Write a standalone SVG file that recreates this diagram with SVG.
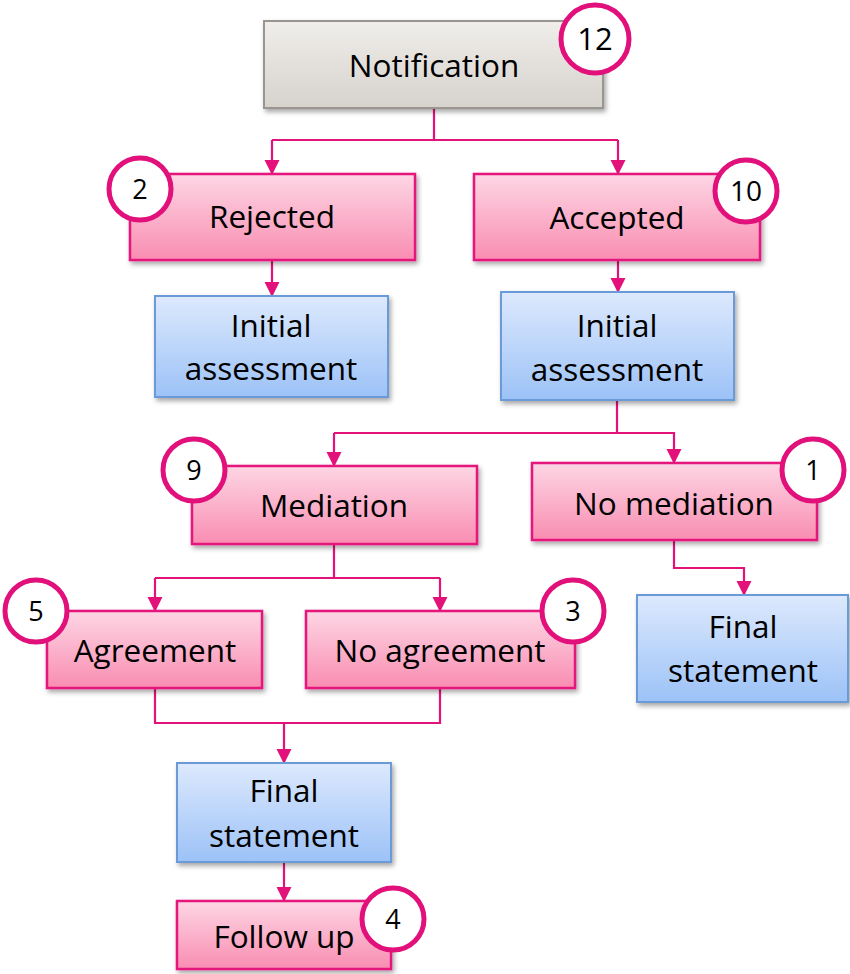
<svg xmlns="http://www.w3.org/2000/svg" width="850" height="974" viewBox="0 0 850 974">
<defs>
<linearGradient id="gGray" x1="0" y1="0" x2="0" y2="1"><stop offset="0" stop-color="#f0eeeb"/><stop offset="1" stop-color="#d6d2cc"/></linearGradient>
<linearGradient id="gPink" x1="0" y1="0" x2="0" y2="1"><stop offset="0" stop-color="#fdd6e4"/><stop offset="1" stop-color="#f98db2"/></linearGradient>
<linearGradient id="gBlue" x1="0" y1="0" x2="0" y2="1"><stop offset="0" stop-color="#dde9fd"/><stop offset="1" stop-color="#9cc2f7"/></linearGradient>
<filter id="sh" x="-10%" y="-10%" width="125%" height="135%"><feDropShadow dx="2" dy="3" stdDeviation="2.5" flood-color="#000" flood-opacity="0.35"/></filter>
<marker id="ah" markerUnits="userSpaceOnUse" markerWidth="16" markerHeight="16" refX="14" refY="7.5" orient="auto"><path d="M0,0 L15,7.5 L0,15 z" fill="#e2127a"/></marker>
</defs>
<style>
.gray{fill:url(#gGray);stroke:#9a9590;stroke-width:2;filter:url(#sh)}
.pink{fill:url(#gPink);stroke:#e5177b;stroke-width:2.5;filter:url(#sh)}
.blue{fill:url(#gBlue);stroke:#6a9ad8;stroke-width:2;filter:url(#sh)}
.num{fill:#fff;stroke:#e2107a;stroke-width:5}
text{font-family:"Open Sans","Liberation Sans",sans-serif;fill:#000;text-anchor:middle}
.t{font-size:31.5px}
.n{font-size:27px}
.conn path{fill:none;stroke:#e2127a;stroke-width:2.2}
.conn .a{marker-end:url(#ah)}
</style>
<g class="conn" id="connectors">
<path d="M434,108 V140 H272"/>
<path class="a" d="M272,140 V174"/>
<path d="M434,140 H618"/>
<path class="a" d="M618,140 V174"/>
<path class="a" d="M272,260 V296"/>
<path class="a" d="M618,260 V292"/>
<path d="M617,400 V433 H334"/>
<path class="a" d="M334,433 V466"/>
<path class="a" d="M617,433 H674 V463"/>
<path class="a" d="M674,540 V568 H744 V595"/>
<path d="M334,544 V578 H155"/>
<path class="a" d="M155,578 V611"/>
<path d="M334,578 H440"/>
<path class="a" d="M440,578 V611"/>
<path d="M155,688 V723 H440 V688"/>
<path class="a" d="M284,723 V763"/>
<path class="a" d="M284,862 V901"/>
</g>
<g id="notification"><rect class="gray" x="264" y="21" width="339" height="87"/><text class="t" x="434" y="77">Notification</text></g>
<g id="rejected"><rect class="pink" x="130" y="174" width="285" height="86"/><text class="t" x="272" y="228">Rejected</text></g>
<g id="accepted"><rect class="pink" x="474" y="174" width="286" height="86"/><text class="t" x="617" y="229">Accepted</text></g>
<g id="assess-left"><rect class="blue" x="155" y="296" width="233" height="101"/><text class="t" x="271" y="337">Initial</text><text class="t" x="271" y="380">assessment</text></g>
<g id="assess-right"><rect class="blue" x="501" y="292" width="233" height="108"/><text class="t" x="617" y="337">Initial</text><text class="t" x="617" y="381">assessment</text></g>
<g id="mediation"><rect class="pink" x="192" y="466" width="285" height="78"/><text class="t" x="334" y="517">Mediation</text></g>
<g id="no-mediation"><rect class="pink" x="532" y="463" width="285" height="77"/><text class="t" x="674" y="515">No mediation</text></g>
<g id="final-right"><rect class="blue" x="637" y="595" width="211" height="107"/><text class="t" x="743" y="638">Final</text><text class="t" x="743" y="682">statement</text></g>
<g id="agreement"><rect class="pink" x="47" y="611" width="215" height="77"/><text class="t" x="155" y="662">Agreement</text></g>
<g id="no-agreement"><rect class="pink" x="306" y="611" width="269" height="77"/><text class="t" x="440" y="662">No agreement</text></g>
<g id="final-bottom"><rect class="blue" x="177" y="763" width="214" height="99"/><text class="t" x="284" y="802">Final</text><text class="t" x="284" y="847">statement</text></g>
<g id="follow-up"><rect class="pink" x="177" y="901" width="214" height="68"/><text class="t" x="284" y="948">Follow up</text></g>
<g id="badges">
<g id="b12"><circle class="num" cx="595" cy="39" r="34"/><text class="n" x="595" y="50" style="font-size:31px">12</text></g>
<g id="b2"><circle class="num" cx="140" cy="189" r="31"/><text class="n" x="140" y="199">2</text></g>
<g id="b10"><circle class="num" cx="746" cy="191" r="31"/><text class="n" x="746" y="201" style="font-size:28px">10</text></g>
<g id="b9"><circle class="num" cx="194" cy="470" r="31"/><text class="n" x="194" y="480">9</text></g>
<g id="b1"><circle class="num" cx="813" cy="470" r="31"/><text class="n" x="813" y="480">1</text></g>
<g id="b5"><circle class="num" cx="36" cy="611" r="31"/><text class="n" x="36" y="621">5</text></g>
<g id="b3"><circle class="num" cx="573" cy="611" r="31"/><text class="n" x="573" y="621">3</text></g>
<g id="b4"><circle class="num" cx="393" cy="919" r="31"/><text class="n" x="393" y="929">4</text></g>
</g>
</svg>
